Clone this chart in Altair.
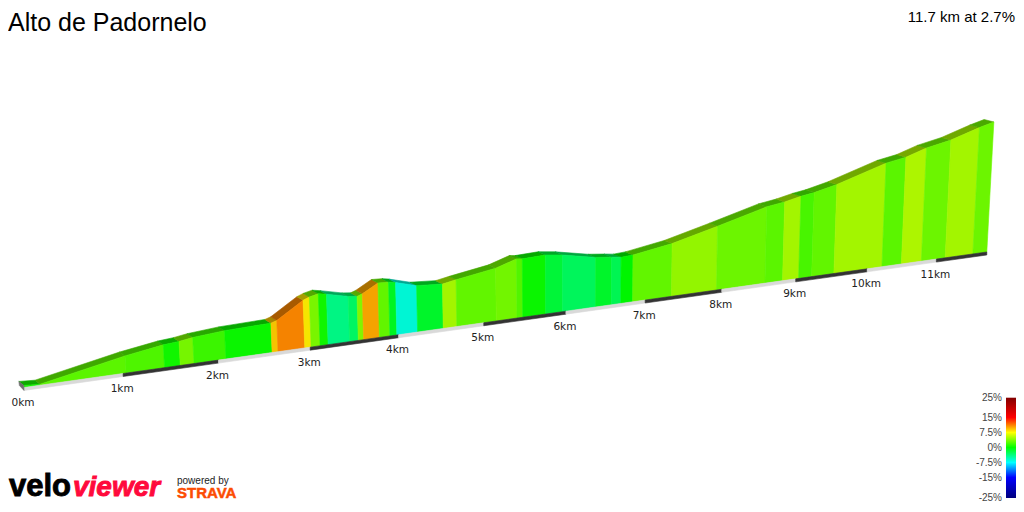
import altair as alt
import pandas as pd

# distance along the climb (km) and height above the ribbon base (m)
km = [0, 0.16, 1.03, 1.43, 1.595, 1.74, 2.08, 2.58, 2.645, 2.94, 3.01, 3.11, 3.20, 3.44, 3.54, 3.60,
      3.78, 3.90, 3.98, 4.22, 4.52, 4.68, 5.15, 5.40, 5.47, 5.75, 5.96, 6.37, 6.57, 6.69, 6.84, 7.34,
      7.93, 8.58, 8.82, 9.04, 9.22, 9.53, 10.21, 10.49, 10.78, 11.13, 11.54, 11.75]
elev = [5, 2.5, 43, 57, 60, 65, 71, 73.5, 78, 119, 125, 130, 126, 113, 110, 114.5,
        136, 134.5, 131, 116, 111, 117, 132, 148, 146, 147.5, 141.5, 124, 119, 115.5, 117, 132,
        159.5, 191, 197, 205.5, 210, 222.5, 259, 267, 283, 294.5, 316, 325]
# gradient (%) of each stretch, as shown by its colour
grade = [0.6, 2.8, 2.4, 0.5, 3.6, 1.8, 0.3, 9, 11, 8, 3.7, 0.5, -4, -3, 4, 10, 3, -1, -6.5, -1.3,
         5, 3, 3.5, 2.5, 0.3, -1.7, -2.8, -1.3, -2.5, 0, 3, 4.5, 3.3, 2.8, 5, 2.2, 3, 5, 2.8, 5.3,
         3.3, 5, 3.3]

tick_km = list(range(12))
tick_labels = ["%dkm" % k for k in tick_km]
strip_breaks = tick_km + [11.75]
legend_ticks = [25, 15, 7.5, 0, -7.5, -15, -25]
legend_labels = ["25%", "15%", "7.5%", "0%", "-7.5%", "-15%", "-25%"]

grade_stops = [-25, -15, -7.5, 0, 7.5, 15, 25]
stop_rgb = [(0, 0, 128), (0, 0, 255), (0, 255, 255), (0, 255, 0), (255, 255, 0), (255, 0, 0), (128, 0, 0)]


def shade(k):
    return ["rgb(%d,%d,%d)" % tuple(round(c * k) for c in rgb) for rgb in stop_rgb]


# projection of the 3D ribbon onto the page
def base_x(k):
    return 24 + 101.1 * k / (1 + 0.0199 * k)


def base_y(x):
    return 387.3 - 0.1407 * (x - 25)


def top_pt(k, e):
    x = base_x(k)
    h = e * 0.4
    return x + (x - 580) / 7500 * h, base_y(x) - h


def back_pt(k, e):
    x, y = top_pt(k, e)
    return x - 5 - 0.4 * k, y - 4 + 0.13 * k


def poly(rows, sid, pts, **kw):
    for i, (x, y) in enumerate(list(pts) + [pts[0]]):
        rows.append(dict(seg=sid, o=i, px=x, py=y, **kw))


face, band, strip, cap = [], [], [], []
for i, g in enumerate(grade):
    a, b = (km[i], elev[i]), (km[i + 1], elev[i + 1])
    ax, bx = base_x(a[0]), base_x(b[0])
    poly(face, i, [top_pt(*a), top_pt(*b), (bx, base_y(bx)), (ax, base_y(ax))], g=g)
    poly(band, i, [top_pt(*a), top_pt(*b), back_pt(*b), back_pt(*a)], g=g)

for i in range(len(strip_breaks) - 1):
    ax, bx = base_x(strip_breaks[i]), base_x(strip_breaks[i + 1])
    poly(strip, i, [(ax, base_y(ax)), (bx, base_y(bx)), (bx, base_y(bx) + 3), (ax, base_y(ax) + 3)],
         c="#333333" if i % 2 else "#d9d9d9")

ax0 = base_x(0)
t0, b0 = top_pt(km[0], elev[0]), back_pt(km[0], elev[0])
poly(cap, 0, [b0, t0, (ax0, base_y(ax0) + 3), (b0[0] + 0.5, b0[1] + 4)], c="#6e6e6e")

X = alt.X("px:Q", axis=None, scale=alt.Scale(domain=[8, 1016], nice=False, zero=False))
Y = alt.Y("py:Q", axis=None, scale=alt.Scale(domain=[504, 8], nice=False, zero=False))


def grade_scale(k):
    return alt.Scale(domain=grade_stops, range=shade(k), interpolate="rgb")


def poly_layer(rows, k=None):
    ch = alt.Chart(pd.DataFrame(rows)).mark_line(strokeWidth=0.6, interpolate="linear", clip=False)
    if k is None:
        col = alt.Color("c:N", scale=None, legend=None)
        fill = alt.Fill("c:N", scale=None, legend=None)
    else:
        col = alt.Color("g:Q", scale=grade_scale(k), legend=None)
        fill = alt.Fill("g:Q", scale=grade_scale(k), legend=None)
    return ch.encode(x=X, y=Y, order="o:Q", detail="seg:N", color=col, fill=fill)


def text_layer(df, **kw):
    return alt.Chart(df).mark_text(**kw).encode(x=X, y=Y, text="t:N")


tick_df = pd.DataFrame({
    "t": tick_labels,
    "px": [base_x(k) - 1 for k in tick_km],
    "py": [base_y(base_x(k)) + 15.5 for k in tick_km],
})
ticks = text_layer(tick_df, font="DejaVu Sans", fontSize=10.5, align="center", baseline="middle", color="#222222")

LEG0 = 448  # centre of the colour bar
legend_g = [v / 2 for v in range(-50, 50)]
leg_df = pd.DataFrame({"g": legend_g, "py": [LEG0 - 2 * v for v in legend_g],
                       "py2": [LEG0 - 2 * (v + 0.5) - 0.3 for v in legend_g], "px": 1006, "px2": 1016})
leg_bar = alt.Chart(leg_df).mark_rect().encode(
    x=X, x2="px2:Q", y=Y, y2="py2:Q",
    color=alt.Color("g:Q", scale=grade_scale(1), legend=None))
leg_txt = text_layer(pd.DataFrame({"t": legend_labels, "px": 1002,
                                   "py": [LEG0 - 2 * v for v in legend_ticks]}),
                     font="Liberation Sans", fontSize=10, align="right", baseline="middle", color="#444444")

title = text_layer(pd.DataFrame({"t": ["Alto de Padornelo"], "px": [8], "py": [31]}),
                   font="Liberation Sans", fontSize=25, align="left", baseline="alphabetic", color="#000000")
sub = text_layer(pd.DataFrame({"t": ["11.7 km at 2.7%"], "px": [1015], "py": [22]}),
                 font="Liberation Sans", fontSize=15, align="right", baseline="alphabetic", color="#000000")
velo = text_layer(pd.DataFrame({"t": ["velo"], "px": [9], "py": [496]}),
                  font="Liberation Sans", fontSize=31, fontWeight="bold", align="left", baseline="alphabetic",
                  color="#000000", stroke="#000000", strokeWidth=0.9)
viewer = text_layer(pd.DataFrame({"t": ["viewer"], "px": [73], "py": [496]}),
                    font="Liberation Sans", fontSize=28, fontWeight="bold", fontStyle="italic", align="left",
                    baseline="alphabetic", color="#ff0a3c", stroke="#ff0a3c", strokeWidth=0.9)
powered = text_layer(pd.DataFrame({"t": ["powered by"], "px": [177], "py": [484]}),
                     font="Liberation Sans", fontSize=10, align="left", baseline="alphabetic", color="#222222")
strava = text_layer(pd.DataFrame({"t": ["STRAVA"], "px": [177], "py": [498]}),
                    font="Liberation Sans", fontSize=15, fontWeight="bold", align="left", baseline="alphabetic",
                    color="#fc4c02", stroke="#fc4c02", strokeWidth=0.5)

chart = alt.layer(
    poly_layer(band, 0.66),
    poly_layer(face, 0.96),
    poly_layer(strip),
    poly_layer(cap),
    ticks, leg_bar, leg_txt, title, sub, velo, viewer, powered, strava,
).resolve_scale(color="independent", fill="independent").properties(
    width=1008, height=496, padding=0,
    autosize=alt.AutoSizeParams(type="none"),
).configure_view(stroke=None)

chart.save("out.html", embed_options={"renderer": "svg", "actions": False})
